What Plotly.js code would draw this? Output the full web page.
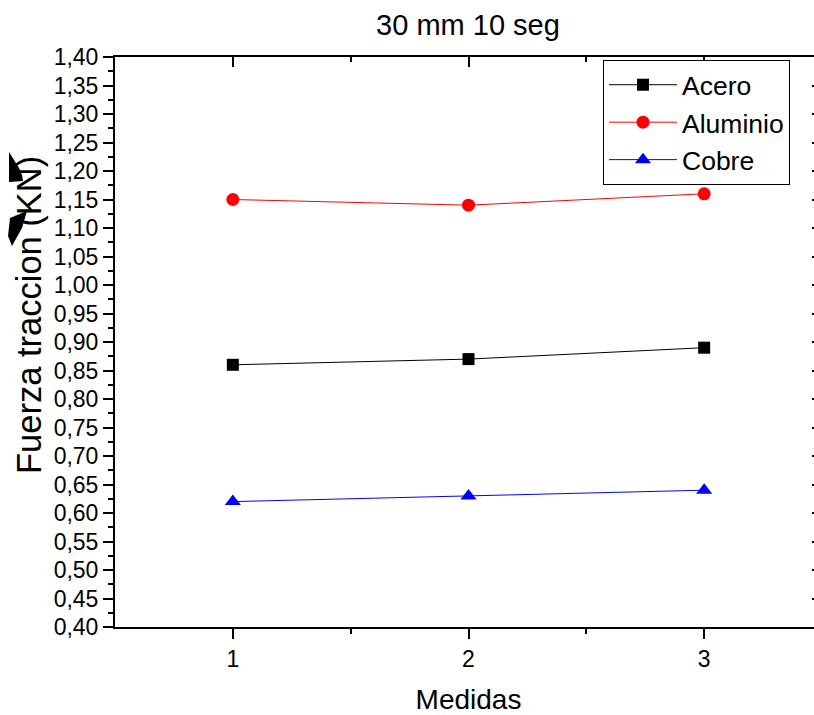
<!DOCTYPE html>
<html>
<head>
<meta charset="utf-8">
<script src="https://cdn.plot.ly/plotly-3.0.1.min.js"></script>
<style>
html,body{margin:0;padding:0;overflow:hidden;background:#fff;}
#chart{width:830px;height:715px;}
</style>
</head>
<body>
<div id="chart"></div>
<script>
const medidas = [1, 2, 3];
const acero = [0.86, 0.87, 0.89];
const aluminio = [1.15, 1.14, 1.16];
const cobre = [0.62, 0.63, 0.64];
const seriesNames = ["Acero", "Aluminio", "Cobre"];
const titleText = "30 mm 10 seg";
const xTitle = "Medidas";
const yTitle = "Fuerza traccion (KN)";

const FONT = "Liberation Sans, Arial, sans-serif";
// plot area pixels
const L = 115, R = 822, T = 57, B = 627;
const px = x => (x - L) / (R - L);
const py = y => (B - y) / (B - T);
function poly(pts){
  return 'M' + pts.map(p => px(p[0]).toFixed(5) + ',' + py(p[1]).toFixed(5)).join(' L') + ' Z';
}

const traces = [
  {x: medidas, y: acero, name: seriesNames[0], type: 'scatter', mode: 'lines+markers',
   line: {color: '#000000', width: 1}, marker: {symbol: 'square', size: 12, color: '#000000'}},
  {x: medidas, y: aluminio, name: seriesNames[1], type: 'scatter', mode: 'lines+markers',
   line: {color: '#ff0000', width: 1}, marker: {symbol: 'circle', size: 13, color: '#ff0000'}},
  {x: medidas, y: cobre, name: seriesNames[2], type: 'scatter', mode: 'lines+markers',
   line: {color: '#0000ff', width: 1}, marker: {symbol: 'triangle-up', size: 14, color: '#0000ff'}},
  {x: [medidas[0]], y: [acero[0]], xaxis: 'x2', yaxis: 'y2', type: 'scatter', mode: 'markers',
   marker: {opacity: 0}, showlegend: false, hoverinfo: 'skip'}
];

const layout = {
  width: 830, height: 715,
  margin: {l: L, r: 830 - R, t: T, b: 715 - B},
  paper_bgcolor: '#ffffff', plot_bgcolor: '#ffffff',
  separators: ',.',
  font: {family: FONT, color: '#000000', size: 23},
  showlegend: true,
  title: {text: titleText, font: {family: FONT, size: 29, color: '#000'}, x: px(468), xref: 'paper', xanchor: 'center', y: 1 - 25/715, yanchor: 'middle'},
  xaxis: {
    range: [0.5, 3.5], tickvals: medidas, ticktext: medidas.map(String),
    ticks: 'outside', ticklen: 10, tickwidth: 2, tickcolor: '#000',
    minor: {tickvals: [1.5, 2.5], ticks: 'outside', ticklen: 5, tickwidth: 2, tickcolor: '#000'},
    showline: true, linewidth: 2, linecolor: '#000', showgrid: false, zeroline: false,
    tickfont: {family: FONT, size: 23},
    title: {text: xTitle, font: {family: FONT, size: 28}, standoff: 20}
  },
  xaxis2: {
    range: [0.5, 3.5], overlaying: 'x', side: 'top', tickvals: medidas,
    showticklabels: false, ticks: 'inside', ticklen: 10, tickwidth: 2, tickcolor: '#000',
    minor: {tickvals: [1.5, 2.5], ticks: 'inside', ticklen: 5, tickwidth: 2, tickcolor: '#000'},
    showline: true, linewidth: 2, linecolor: '#000', showgrid: false, zeroline: false
  },
  yaxis: {
    range: [0.4, 1.4], dtick: 0.05, tick0: 0.4, tickformat: '.2f',
    ticks: 'outside', ticklen: 10, tickwidth: 2, tickcolor: '#000',
    minor: {dtick: 0.025, ticks: 'outside', ticklen: 5, tickwidth: 2, tickcolor: '#000'},
    showline: true, linewidth: 2, linecolor: '#000', showgrid: false, zeroline: false,
    tickfont: {family: FONT, size: 23}
  },
  yaxis2: {
    range: [0.4, 1.4], overlaying: 'y', side: 'right', anchor: 'x2', dtick: 0.05, tick0: 0.4,
    showticklabels: false, ticks: 'inside', ticklen: 10, tickwidth: 2, tickcolor: '#000',
    minor: {dtick: 0.025, ticks: 'inside', ticklen: 5, tickwidth: 2, tickcolor: '#000'},
    showline: true, linewidth: 2, linecolor: '#000', showgrid: false, zeroline: false
  },
  legend: {
    x: px(603), y: py(60), xanchor: 'left', yanchor: 'top',
    bordercolor: '#000', borderwidth: 1, bgcolor: '#ffffff',
    font: {family: FONT, size: 26.5}, itemwidth: 68, tracegroupgap: 0
  },
  annotations: [
    {text: yTitle, xref: 'paper', yref: 'paper', x: px(29), y: py(315), showarrow: false,
     textangle: -90, font: {family: FONT, size: 34.5}, xanchor: 'center', yanchor: 'middle'}
  ],
  shapes: [
    {type: 'path', xref: 'paper', yref: 'paper', fillcolor: '#000', line: {width: 0},
     path: poly([[9,152],[14,160],[19,168],[22,175],[23,181],[9,182]])},
    {type: 'path', xref: 'paper', yref: 'paper', fillcolor: '#000', line: {width: 0},
     path: poly([[10,218],[27,211],[22,228],[12,246],[8,236]])}
  ]
};

Plotly.newPlot('chart', traces, layout, {displayModeBar: false, staticPlot: true});
</script>
</body>
</html>
